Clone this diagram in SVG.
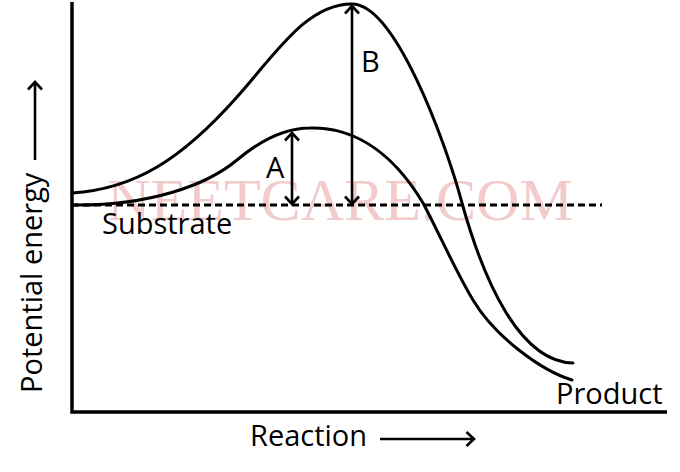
<svg xmlns="http://www.w3.org/2000/svg" width="680" height="472" viewBox="0 0 680 472">
<style>
.lbl{font-family:"Open Sans","Liberation Sans",sans-serif;font-size:29px;fill:#000}
.curve{fill:none;stroke:#000;stroke-width:3;stroke-linecap:round}
.arr{fill:none;stroke:#000;stroke-width:2.6}
.axis{fill:none;stroke:#000;stroke-width:3.5}
.wm{font-family:"Liberation Serif","Times New Roman",serif;font-size:60px;fill:#f2cccc}
</style>
<defs>
<marker id="chev" viewBox="-10 -10 12 20" refX="0" refY="0" markerWidth="12" markerHeight="20" markerUnits="userSpaceOnUse" orient="auto-start-reverse">
<path d="M-7.5,-7 L0,0 L-7.5,7" fill="none" stroke="#000" stroke-width="2.6"/>
</marker>
</defs>
<rect width="680" height="472" fill="#fff"/>
<text class="wm" x="107" y="220" textLength="466" lengthAdjust="spacingAndGlyphs">NEETCARE.COM</text>
<g id="axes">
<path class="axis" d="M72,2 L72,412 L667,412"/>
</g>
<g id="substrate-line">
<line x1="72" y1="205" x2="602" y2="205" stroke="#000" stroke-width="3" stroke-dasharray="7,4"/>
</g>
<g id="curve-B">
<path class="curve" d="M72,193 C135,189 182,159 237,97 C277,52 307,4 352,4 C395,4 445,140 462,203 C484,282 520,362 573,363"/>
</g>
<g id="curve-A">
<path class="curve" d="M72,205 C150,206 207,185 237,160 C262,139 285,128 310,128 C350,127 390,148 423,203 C438,231 456,272 473,300 C495,337 542,371 572,380"/>
</g>
<g id="connectors">
<line class="arr" x1="292" y1="133" x2="292" y2="204" marker-start="url(#chev)" marker-end="url(#chev)"/>
<line class="arr" x1="352" y1="6" x2="352" y2="204" marker-start="url(#chev)" marker-end="url(#chev)"/>
<line class="arr" x1="380" y1="439" x2="474" y2="439" marker-end="url(#chev)"/>
<line class="arr" x1="35" y1="160" x2="35" y2="82" marker-end="url(#chev)"/>
</g>
<g id="label-A"><text class="lbl" x="266" y="178">A</text></g>
<g id="label-B"><text class="lbl" x="361" y="72">B</text></g>
<g id="label-substrate"><text class="lbl" x="102" y="234">Substrate</text></g>
<g id="label-product"><text class="lbl" x="556" y="404">Product</text></g>
<g id="label-reaction"><text class="lbl" x="250" y="446">Reaction</text></g>
<g id="label-energy"><text class="lbl" transform="translate(42,393) rotate(-90)">Potential energy</text></g>
</svg>
